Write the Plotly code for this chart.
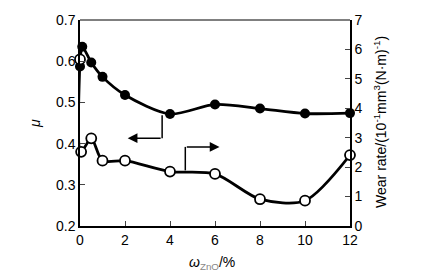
import plotly.graph_objects as go

# Data
zno_mu = [0, 0.1, 0.5, 1, 2, 4, 6, 8, 10, 12]
mu = [0.587, 0.635, 0.597, 0.562, 0.518, 0.472, 0.495, 0.485, 0.473, 0.474]
zno_wear = [0, 0.05, 0.5, 1, 2, 4, 6, 8, 10, 12]
wear = [5.66, 2.52, 2.98, 2.22, 2.22, 1.85, 1.77, 0.91, 0.86, 2.41]

x_ticks = [0, 2, 4, 6, 8, 10, 12]
y_ticks = [0.2, 0.3, 0.4, 0.5, 0.6, 0.7]
y2_ticks = [0, 1, 2, 3, 4, 5, 6, 7]

FONT = "Liberation Sans, Arial, sans-serif"

fig = go.Figure()
fig.add_trace(go.Scatter(
    x=zno_mu, y=mu, mode="lines+markers",
    line=dict(color="black", width=2.8, shape="spline", smoothing=0.8),
    marker=dict(symbol="circle", size=10, color="black"),
    cliponaxis=False, showlegend=False, yaxis="y"))
fig.add_trace(go.Scatter(
    x=zno_wear, y=wear, mode="lines+markers",
    line=dict(color="black", width=2.8, shape="spline", smoothing=0.8),
    marker=dict(symbol="circle", size=10, color="white", line=dict(color="black", width=1.8)),
    cliponaxis=False, showlegend=False, yaxis="y2"))

# Arrow indicators
fig.add_shape(type="line", xref="x", yref="y", x0=3.65, x1=3.65, y0=0.469, y1=0.413,
              line=dict(color="black", width=1.5))
fig.add_annotation(x=2.12, y=0.413, ax=3.65, ay=0.413, xref="x", yref="y", axref="x", ayref="y",
                   showarrow=True, arrowhead=2, arrowsize=1.3, arrowwidth=1.5, arrowcolor="black", text="")
fig.add_shape(type="line", xref="x", yref="y", x0=4.68, x1=4.68, y0=0.335, y1=0.392,
              line=dict(color="black", width=1.5))
fig.add_annotation(x=6.2, y=0.392, ax=4.68, ay=0.392, xref="x", yref="y", axref="x", ayref="y",
                   showarrow=True, arrowhead=2, arrowsize=1.3, arrowwidth=1.5, arrowcolor="black", text="")

# top border
fig.add_shape(type="line", xref="paper", yref="paper", x0=0, x1=1, y0=1, y1=1,
              line=dict(color="black", width=1))

# axis titles as annotations for exact placement
fig.add_annotation(xref="paper", yref="paper", x=-0.167, y=0.5, xanchor="center", yanchor="middle",
                   text="<i>μ</i>", textangle=-90, showarrow=False, font=dict(size=14))
fig.add_annotation(xref="paper", yref="paper", x=1.111, y=0.505, xanchor="center", yanchor="middle",
                   text="Wear rate/(10<sup>-1</sup>mm<sup>3</sup>(N·m)<sup>-1</sup>)",
                   textangle=-90, showarrow=False, font=dict(size=14))
fig.add_annotation(xref="paper", yref="paper", x=0.49, y=-0.18, xanchor="center", yanchor="middle",
                   text="<i>ω</i><sub><span style='color:#888888'>ZnO</span></sub>/%",
                   showarrow=False, font=dict(size=14))

# page body has an 8px margin, so the figure is sized to fit the 424x278 window
fig.update_layout(
    width=416, height=270,
    margin=dict(l=72, r=74, t=12, b=52, autoexpand=False),
    paper_bgcolor="white", plot_bgcolor="white",
    font=dict(family=FONT, size=14, color="black"),
    xaxis=dict(range=[0, 12], tickvals=x_ticks, ticks="inside", ticklen=5, tickwidth=1,
               showline=True, linecolor="black", linewidth=1.5, showgrid=False, zeroline=False,
               automargin=False),
    yaxis=dict(range=[0.2, 0.7], tickvals=y_ticks, tickformat=".1f", ticks="inside", ticklen=5,
               showline=True, linecolor="black", linewidth=1.5, showgrid=False, zeroline=False,
               automargin=False),
    yaxis2=dict(range=[0, 7], tickvals=y2_ticks, overlaying="y", side="right", ticks="inside",
                ticklen=5, showline=True, linecolor="black", linewidth=1.5, showgrid=False,
                zeroline=False, automargin=False),
)

fig.write_html("out.html")
